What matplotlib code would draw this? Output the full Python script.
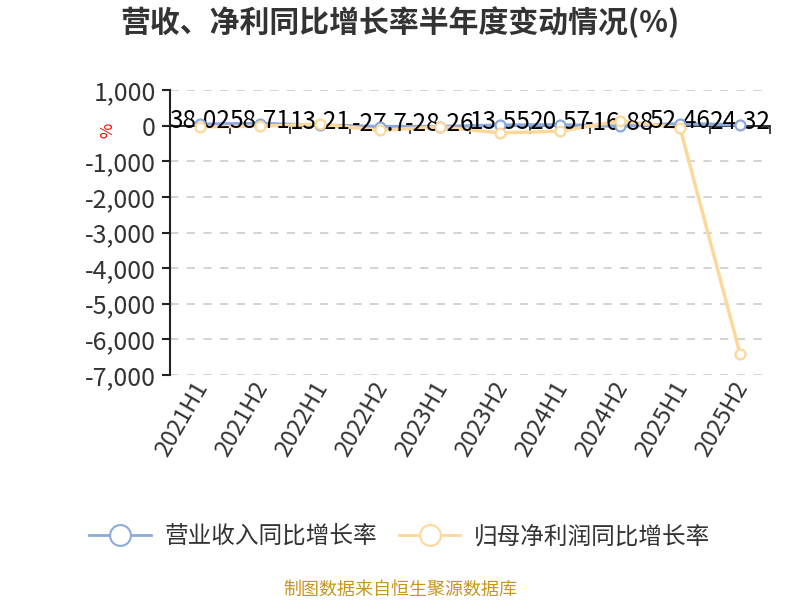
import matplotlib
matplotlib.use("Agg")
import matplotlib.pyplot as plt
from matplotlib.ticker import FuncFormatter, FixedLocator, NullFormatter

plt.rcParams['font.family'] = ['Noto Sans CJK SC', 'DejaVu Sans']
plt.rcParams['axes.unicode_minus'] = False

periods = ['2021H1', '2021H2', '2022H1', '2022H2', '2023H1',
           '2023H2', '2024H1', '2024H2', '2025H1', '2025H2']
revenue_yoy = [38.02, 58.71, 13.21, -27.7, -28.26, 13.55, 20.57, -16.88, 52.46, 24.32]
profit_yoy = [-35, -15, 40, -130, -35, -205, -155, 130, -60, -6400]
y_ticks = [1000, 0, -1000, -2000, -3000, -4000, -5000, -6000, -7000]

blue = '#8eaadb'
orange = '#fdd898'

fig = plt.figure(figsize=(8, 6), dpi=100)
ax = fig.add_axes([0.2125, 0.375, 0.75, 0.475])

x = list(range(len(periods)))
series = [(revenue_yoy, blue, '营业收入同比增长率'),
          (profit_yoy, orange, '归母净利润同比增长率')]
for vals, c, name in series:
    ax.plot(x, vals, color=c, lw=2.5, marker='o', ms=7,
            mfc='white', mec=c, mew=1.5, label=name, zorder=2)
    # markers again on top of the value labels
    ax.plot(x, vals, ls='none', marker='o', ms=7,
            mfc='white', mec=c, mew=1.5, zorder=3)

for xi, v in zip(x, revenue_yoy):
    ax.annotate(f'{v:g}', (xi, v), xytext=(0, 2), textcoords='offset points',
                ha='center', va='center', fontsize=17.5, color='black', zorder=2.8)

ax.set_xlim(-0.5, len(periods) - 0.5)
ax.set_ylim(-7000, 1000)
ax.set_yticks(y_ticks)
ax.yaxis.set_major_formatter(FuncFormatter(lambda v, p: f'{int(v):,}'))
ax.tick_params(axis='y', labelsize=18, labelcolor='#333333', color='#222222',
               length=6, width=1.5, pad=4)
ax.grid(axis='y', color='#cccccc', ls=(0, (5, 5)), lw=1.2)
ax.set_axisbelow(True)

for s in ['top', 'right']:
    ax.spines[s].set_visible(False)
ax.spines['left'].set_color('#222222')
ax.spines['left'].set_linewidth(1.5)

# x axis line sits at zero, ticks between categories
ax.spines['bottom'].set_position(('data', 0))
ax.spines['bottom'].set_color('#222222')
ax.spines['bottom'].set_linewidth(1.3)
ax.spines['bottom'].set_zorder(1.9)
ax.xaxis.set_major_locator(FixedLocator([i + 0.5 for i in x]))
ax.xaxis.set_major_formatter(NullFormatter())
ax.tick_params(axis='x', direction='out', length=6, width=1.2, color='#222222')

# category labels along the bottom of the plot area
for xi, p in zip(x, periods):
    ax.annotate(p, (xi, 0), xycoords=('data', 'axes fraction'),
                xytext=(2, -6), textcoords='offset points',
                rotation=60, ha='right', va='center', rotation_mode='anchor',
                fontsize=17, color='#333333', annotation_clip=False)

ax.set_ylabel('%', color='red', fontsize=12, labelpad=2)
ax.yaxis.set_label_coords(-0.09, 0.86)

fig.text(0.5, 0.963, '营收、净利同比增长率半年度变动情况(%)', ha='center', va='center',
         fontsize=21.5, fontweight='bold', color='#333333')

leg = fig.legend(loc='center', bbox_to_anchor=(0.5, 0.105), ncol=2, frameon=False,
                 fontsize=17, handlelength=2.6, columnspacing=0.9, handletextpad=0.6)
for t in leg.get_texts():
    t.set_color('#333333')
for h in leg.legend_handles:
    h.set_markersize(15)
    h.set_linewidth(2)

fig.text(0.5, 0.017, '制图数据来自恒生聚源数据库', ha='center', va='center',
         fontsize=13, color='#c8961e')

fig.savefig('out.png', dpi=100)
